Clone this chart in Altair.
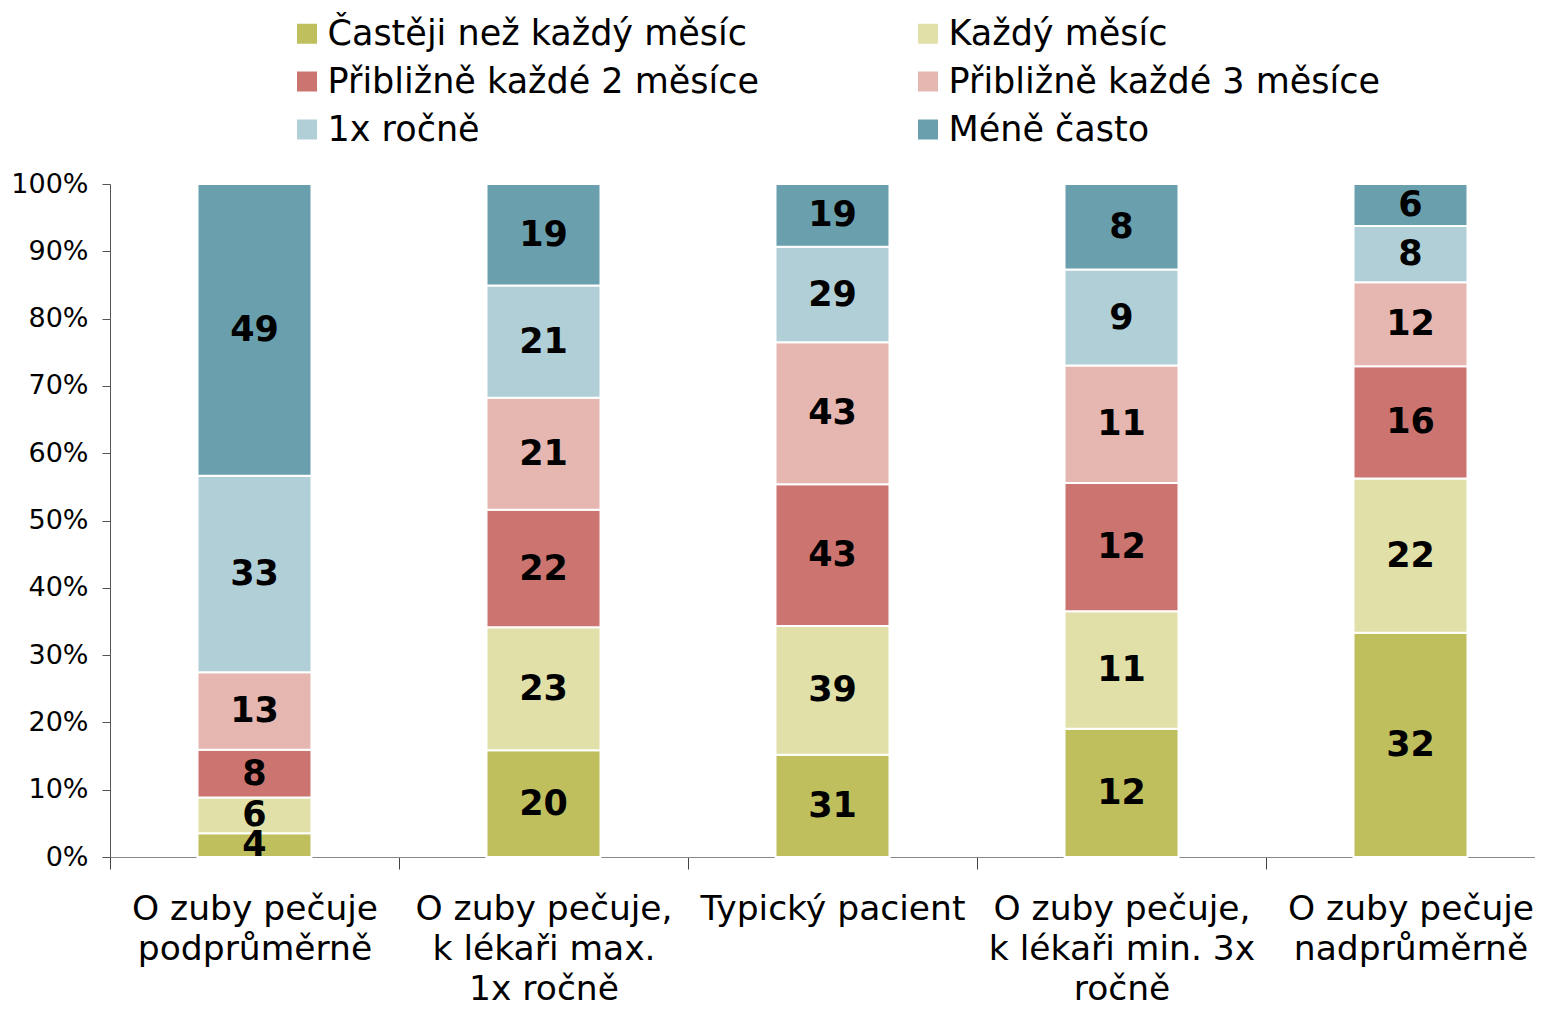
import altair as alt
import pandas as pd

categories = [
    "O zuby pečuje|podprůměrně",
    "O zuby pečuje,|k lékaři max.|1x ročně",
    "Typický pacient",
    "O zuby pečuje,|k lékaři min. 3x|ročně",
    "O zuby pečuje|nadprůměrně",
]
series = [
    "Častěji než každý měsíc",
    "Každý měsíc",
    "Přibližně každé 2 měsíce",
    "Přibližně každé 3 měsíce",
    "1x ročně",
    "Méně často",
]
colors = ["#C0BF5E", "#E0E0A8", "#CC7470", "#E6B6B1", "#B0CFD6", "#6A9FAD"]

castejí = [4, 20, 31, 12, 32]
kazdy_mesic = [6, 23, 39, 11, 22]
kazde_2 = [8, 22, 43, 12, 16]
kazde_3 = [13, 21, 43, 11, 12]
rocne = [33, 21, 29, 9, 8]
mene = [49, 19, 19, 8, 6]
all_values = [castejí, kazdy_mesic, kazde_2, kazde_3, rocne, mene]

rows = []
for si, (s, vals) in enumerate(zip(series, all_values)):
    for c, v in zip(categories, vals):
        rows.append({"cat": c, "series": s, "order": si, "value": v})
df = pd.DataFrame(rows)

# legend is filled column by column: reorder so it reads row by row
legend_idx = [0, 2, 4, 1, 3, 5]
legend_domain = [series[i] for i in legend_idx]
legend_range = [colors[i] for i in legend_idx]

FONT = "DejaVu Sans"

base = alt.Chart(df).transform_stack(
    stack="value",
    groupby=["cat"],
    as_=["y0", "y1"],
    offset="normalize",
    sort=[alt.SortField("order", order="ascending")],
).transform_calculate(mid="(datum.y0 + datum.y1) / 2")

xenc = alt.X(
    "cat:N",
    sort=categories,
    scale=alt.Scale(range=[0, 1445], paddingInner=0, paddingOuter=0),
    axis=alt.Axis(
        title=None,
        labelExpr="split(datum.label, '|')",
        labelAngle=0,
        labelFont=FONT,
        labelFontSize=34.5,
        labelColor="black",
        labelLineHeight=40,
        labelPadding=23,
        labelLimit=0,
        tickSize=12,
        tickBand="extent",
        domainColor="#888888",
        tickColor="#444444",
        grid=False,
    ),
)

bars = base.mark_bar(size=114, stroke="white", strokeWidth=2).encode(
    x=xenc,
    y=alt.Y(
        "y0:Q",
        scale=alt.Scale(domain=[0, 1], nice=False),
        axis=alt.Axis(
            title=None,
            format=".0%",
            values=[i / 10 for i in range(11)],
            labelFont=FONT,
            labelFontSize=27,
            labelColor="black",
            labelPadding=14,
            tickSize=8,
            domainColor="#555555",
            tickColor="#555555",
            grid=False,
        ),
    ),
    y2="y1:Q",
    color=alt.Color(
        "series:N",
        scale=alt.Scale(domain=legend_domain, range=legend_range),
        legend=alt.Legend(
            title=None,
            orient="none",
            legendX=179.5,
            legendY=-168,
            columns=2,
            symbolType="square",
            symbolSize=400,
            symbolStrokeWidth=0,
            symbolOpacity=1,
            labelFont=FONT,
            labelFontSize=35,
            labelColor="black",
            labelOffset=3,
            rowPadding=12,
            columnPadding=151,
            padding=0,
            labelLimit=0,
        ),
    ),
)

text = base.mark_text(
    font=FONT, fontSize=35, fontWeight="bold", color="black", baseline="middle"
).encode(
    x=alt.X("cat:N", sort=categories),
    y=alt.Y("mid:Q"),
    text=alt.Text("value:Q"),
)

chart = (
    alt.layer(bars, text)
    .properties(
        width=1425,
        height=673,
        autosize=alt.AutoSizeParams(type="none"),
        padding={"left": 102, "top": 176, "right": 0, "bottom": 149},
    )
    .configure_view(stroke=None)
)

chart.save("out.html", embed_options={"renderer": "svg", "actions": False})
